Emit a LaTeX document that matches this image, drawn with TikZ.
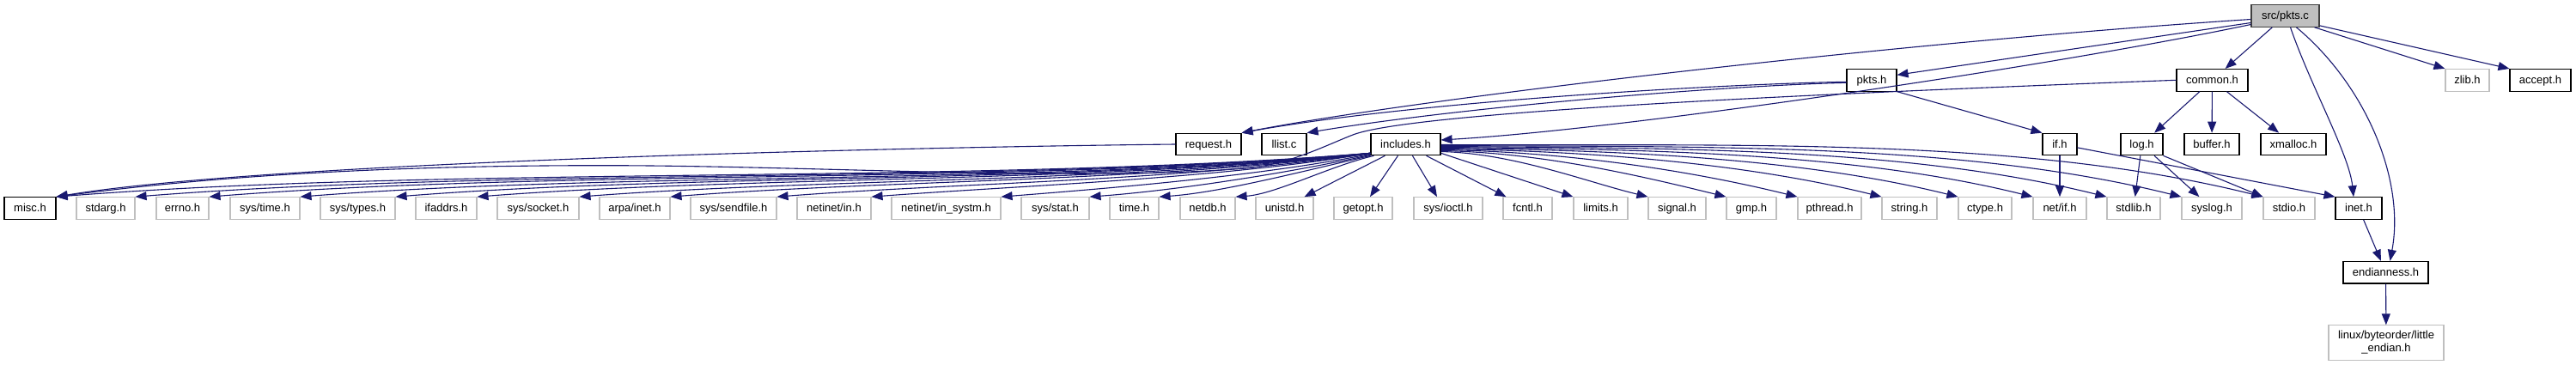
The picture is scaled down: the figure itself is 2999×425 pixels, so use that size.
\documentclass[tikz,border=0pt]{standalone}
\usepackage{fontspec}
\setmainfont{Liberation Sans}
\usetikzlibrary{arrows.meta}
\definecolor{edgec}{HTML}{191970}
\definecolor{grayb}{HTML}{BFBFBF}
\definecolor{rootf}{HTML}{BFBFBF}
\definecolor{rootb}{HTML}{404040}
\begin{document}
\begin{tikzpicture}[x=1pt,y=-1pt,
  box/.style={draw=black, line width=1.1pt, fill=white, minimum height=25.6pt, inner sep=0pt,
    text height=10pt, text depth=1.6pt, font=\fontsize{13}{15}\selectfont},
  sysbox/.style={box, draw=grayb},
  rootbox/.style={box, draw=rootb, fill=rootf},
  twoline/.style={draw=grayb, line width=1.1pt, fill=white, inner sep=0pt, align=center,
    font=\fontsize{13}{15}\selectfont},
  edge/.style={draw=edgec, line width=1.1pt, -{Triangle[length=13pt,width=10pt]}},
]
\fill[white] (0,0) rectangle (2999,425);
\useasboundingbox (0,0) rectangle (2999,425);

% row 0
\node[rootbox, minimum width=79pt] (pkts_c) at (2660.5,18.5) {src/pkts.c};
% row 1
\node[box, minimum width=58pt] (pkts_h) at (2179,93.3) {pkts.h};
\node[box, minimum width=83pt] (common_h) at (2575.5,93.3) {common.h};
\node[sysbox, minimum width=51pt] (zlib_h) at (2872.5,93.3) {zlib.h};
\node[box, minimum width=71pt] (accept_h) at (2957.5,93.3) {accept.h};
% row 2
\node[box, minimum width=76pt] (request_h) at (1407,168) {request.h};
\node[box, minimum width=52pt] (llist_c) at (1495,168) {llist.c};
\node[box, minimum width=81pt] (includes_h) at (1636.5,168) {includes.h};
\node[box, minimum width=40pt] (if_h) at (2398,168) {if.h};
\node[box, minimum width=49pt] (log_h) at (2493.5,168) {log.h};
\node[box, minimum width=64pt] (buffer_h) at (2575,168) {buffer.h};
\node[box, minimum width=76pt] (xmalloc_h) at (2670,168) {xmalloc.h};
% row 3
\node[box, minimum width=60pt] (misc_h) at (35,242.5) {misc.h};
\node[sysbox, minimum width=68pt] (stdarg_h) at (123,242.5) {stdarg.h};
\node[sysbox, minimum width=61pt] (errno_h) at (212.5,242.5) {errno.h};
\node[sysbox, minimum width=81pt] (systime_h) at (308.5,242.5) {sys/time.h};
\node[sysbox, minimum width=87pt] (systypes_h) at (416.5,242.5) {sys/types.h};
\node[sysbox, minimum width=71pt] (ifaddrs_h) at (519.5,242.5) {ifaddrs.h};
\node[sysbox, minimum width=95pt] (syssocket_h) at (626.5,242.5) {sys/socket.h};
\node[sysbox, minimum width=82pt] (arpainet_h) at (739,242.5) {arpa/inet.h};
\node[sysbox, minimum width=100pt] (syssendfile_h) at (854,242.5) {sys/sendfile.h};
\node[sysbox, minimum width=86pt] (netinetin_h) at (971,242.5) {netinet/in.h};
\node[sysbox, minimum width=127pt] (insystm_h) at (1101.5,242.5) {netinet/in\_systm.h};
\node[sysbox, minimum width=79pt] (sysstat_h) at (1228.5,242.5) {sys/stat.h};
\node[sysbox, minimum width=57pt] (time_h) at (1320.5,242.5) {time.h};
\node[sysbox, minimum width=64pt] (netdb_h) at (1406,242.5) {netdb.h};
\node[sysbox, minimum width=67pt] (unistd_h) at (1495.5,242.5) {unistd.h};
\node[sysbox, minimum width=68pt] (getopt_h) at (1587,242.5) {getopt.h};
\node[sysbox, minimum width=80pt] (sysioctl_h) at (1686,242.5) {sys/ioctl.h};
\node[sysbox, minimum width=57pt] (fcntl_h) at (1778.5,242.5) {fcntl.h};
\node[sysbox, minimum width=63pt] (limits_h) at (1863.5,242.5) {limits.h};
\node[sysbox, minimum width=67pt] (signal_h) at (1952.5,242.5) {signal.h};
\node[sysbox, minimum width=58pt] (gmp_h) at (2039,242.5) {gmp.h};
\node[sysbox, minimum width=74pt] (pthread_h) at (2130,242.5) {pthread.h};
\node[sysbox, minimum width=64pt] (string_h) at (2223,242.5) {string.h};
\node[sysbox, minimum width=62pt] (ctype_h) at (2311,242.5) {ctype.h};
\node[sysbox, minimum width=62pt] (netif_h) at (2398,242.5) {net/if.h};
\node[sysbox, minimum width=62pt] (stdlib_h) at (2484,242.5) {stdlib.h};
\node[sysbox, minimum width=70pt] (syslog_h) at (2575,242.5) {syslog.h};
\node[sysbox, minimum width=60pt] (stdio_h) at (2665,242.5) {stdio.h};
\node[box, minimum width=54pt] (inet_h) at (2746,242.5) {inet.h};
% row 4, 5
\node[box, minimum width=99pt] (endian_h) at (2777.5,317.2) {endianness.h};
\node[twoline, minimum width=134pt, minimum height=40.3pt] (little_h) at (2778,399) {linux/byteorder/little\\\_endian.h};

% edges from src/pkts.c
\draw[edge] ([yshift=-4pt]pkts_c.west) .. controls (2200,50) and (1650,115) .. (request_h.north east);
\draw[edge] ([yshift=-8pt]pkts_c.west) -- ([yshift=6pt]pkts_h.east);
\draw[edge] ([yshift=-10pt]pkts_c.west) .. controls (2400,75) and (1900,150) .. ([yshift=5pt]includes_h.east);
\draw[edge] (pkts_c) -- (common_h);
\draw[edge] ([xshift=-6pt]pkts_c.south east) -- (zlib_h.north west);
\draw[edge] ([yshift=2pt]pkts_c.south east) -- (accept_h.north west);
\draw[edge] ([xshift=6pt]pkts_c.south) .. controls (2690,100) and (2735,180) .. ([xshift=-6pt]inet_h.north);
\draw[edge] ([xshift=13pt]pkts_c.south) .. controls (2755,100) and (2800,210) .. ([xshift=5pt]endian_h.north);

% edges from pkts.h
\draw[edge] ([yshift=-2pt]pkts_h.west) .. controls (2000,98) and (1650,118) .. (request_h.north east);
\draw[edge] ([yshift=-3pt]pkts_h.west) .. controls (2000,100) and (1700,125) .. (llist_c.north east);
\draw[edge] (pkts_h.south east) -- (if_h.north west);

% edges from common.h
\draw[edge] (common_h.west) .. controls (2200,106) and (1650,128) .. (1575,157)
  .. controls (1545,168.6) and (1500,192) .. (1450,196)
  .. controls (1250,212) and (950,192.7) .. (700,192.7)
  .. controls (450,192.7) and (250,205) .. (misc_h.north east);
\draw[edge] (common_h) -- (log_h);
\draw[edge] (common_h) -- (buffer_h);
\draw[edge] (common_h) -- (xmalloc_h);

% request.h
\draw[edge] (request_h.west) .. controls (1000,172) and (300,190) .. (misc_h.north east);

% if.h
\draw[edge] (if_h) -- (netif_h);
\draw[edge] (if_h) -- (inet_h.north west);

% log.h
\draw[edge] (log_h) -- (stdlib_h);
\draw[edge] (log_h) -- (syslog_h);
\draw[edge] (log_h.south east) -- (stdio_h.north west);

% inet.h, endianness.h
\draw[edge] (inet_h) -- (endian_h);
\draw[edge] (endian_h) -- (little_h);

% includes.h to the left
\draw[edge] ([yshift=3pt]includes_h.south west) .. controls (1137,215) and (524,193) .. (misc_h.north east);
\draw[edge] ([yshift=3pt]includes_h.south west) .. controls (1164,215) and (589,195) .. (stdarg_h.north east);
\draw[edge] ([yshift=3pt]includes_h.south west) .. controls (1190,215) and (649,197) .. (errno_h.north east);
\draw[edge] ([yshift=3pt]includes_h.south west) .. controls (1222,215) and (723,200) .. (systime_h.north east);
\draw[edge] ([yshift=3pt]includes_h.south west) .. controls (1255,214) and (801,202) .. (systypes_h.north east);
\draw[edge] ([yshift=3pt]includes_h.south west) .. controls (1284,213) and (867,205) .. (ifaddrs_h.north east);
\draw[edge] ([yshift=3pt]includes_h.south west) .. controls (1319,212) and (951,208) .. (syssocket_h.north east);
\draw[edge] ([yshift=3pt]includes_h.south west) .. controls (1351,211) and (1025,210) .. (arpainet_h.north east);
\draw[edge] ([yshift=3pt]includes_h.south west) .. controls (1388,210) and (1112,213) .. (syssendfile_h.north east);
\draw[edge] ([yshift=3pt]includes_h.south west) .. controls (1421,208) and (1189,216) .. (netinetin_h.north east);
\draw[edge] ([yshift=2pt]includes_h.south west) .. controls (1467,205) and (1294,219) .. (insystm_h.north east);
\draw[edge] ([yshift=1pt]includes_h.south west) .. controls (1498,202) and (1366,222) .. (sysstat_h.north east);
\draw[edge] (includes_h.south west) .. controls (1522,198) and (1423,224) .. (time_h.north east);
\draw[edge] ([xshift=4pt]includes_h.south west) .. controls (1549,193) and (1485,226) .. (netdb_h.north east);
\draw[edge] ([xshift=17pt]includes_h.south west) -- ([xshift=-11pt]unistd_h.north east);
\draw[edge] ([xshift=32pt]includes_h.south west) -- ([xshift=8pt]getopt_h.north);
\draw[edge] ([xshift=49pt]includes_h.south west) -- ([xshift=-13pt]sysioctl_h.north);
\draw[edge] ([xshift=-17pt]includes_h.south east) -- ([xshift=4pt]fcntl_h.north west);
% includes.h to the right
\draw[edge] ([yshift=3pt]includes_h.south east) -- (limits_h.north west);
\draw[edge] ([yshift=-8.5pt]includes_h.east) .. controls (1762,178.5) and (1846,211.5) .. (signal_h.north west);
\draw[edge] ([yshift=-7.5pt]includes_h.east) .. controls (1794,177.5) and (1910,204.7) .. (gmp_h.north west);
\draw[edge] ([yshift=-6.5pt]includes_h.east) .. controls (1823,176.5) and (1968,198.5) .. (pthread_h.north west);
\draw[edge] ([yshift=-5.5pt]includes_h.east) .. controls (1857,175.5) and (2037,191.2) .. (string_h.north west);
\draw[edge] ([yshift=-4.5pt]includes_h.east) .. controls (1888,174.5) and (2099,184.5) .. (ctype_h.north west);
\draw[edge] ([yshift=-3.5pt]includes_h.east) .. controls (1919,173.5) and (2160,178) .. (netif_h.north west);
\draw[edge] ([yshift=-2.5pt]includes_h.east) .. controls (1949,172.5) and (2220,171.5) .. (stdlib_h.north west);
\draw[edge] ([yshift=-1.5pt]includes_h.east) .. controls (1979,171.5) and (2281,165) .. (syslog_h.north west);
\draw[edge] ([yshift=-0.5pt]includes_h.east) .. controls (2012,170.5) and (2348,157.8) .. (stdio_h.north west);
\end{tikzpicture}
\end{document}
